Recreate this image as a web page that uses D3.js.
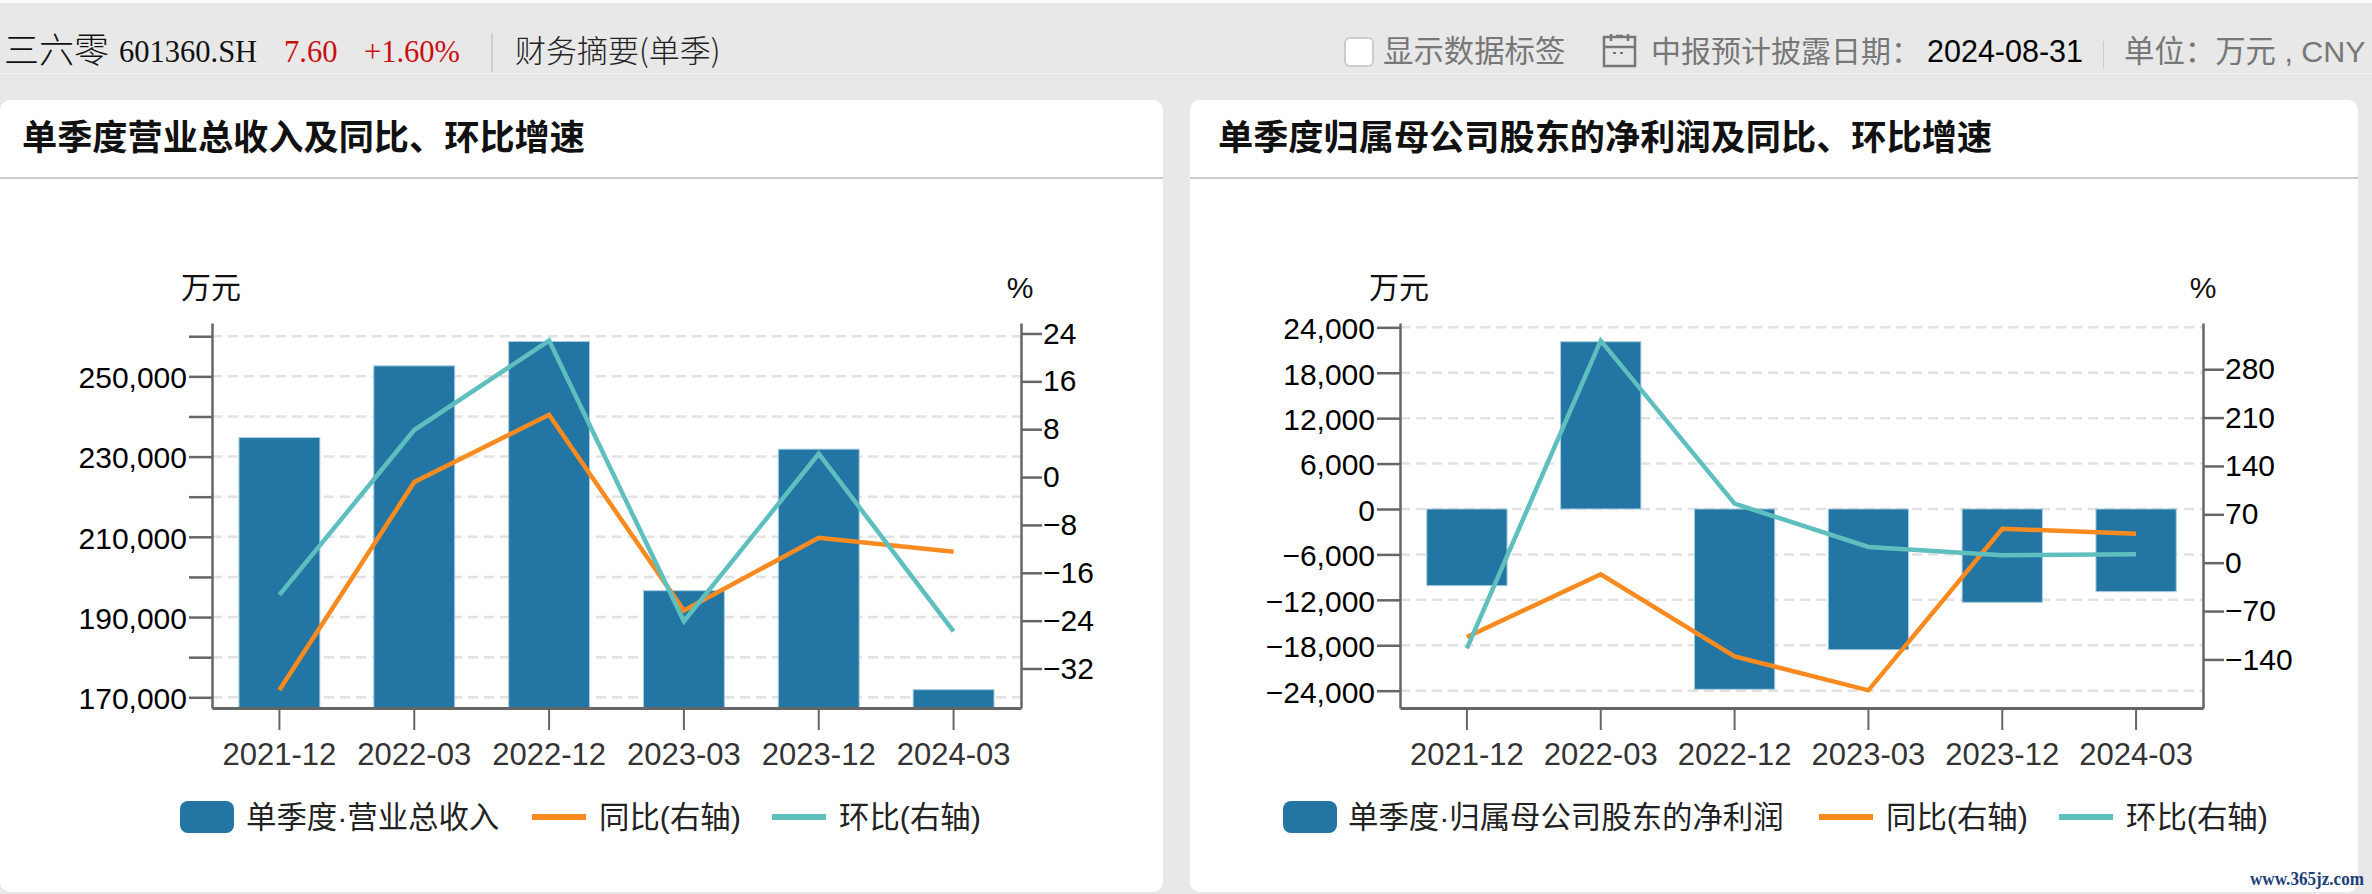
<!DOCTYPE html>
<html>
<head>
<meta charset="utf-8">
<script src="https://cdn.jsdelivr.net/npm/d3@7/dist/d3.min.js"></script>
<style>
html, body { margin: 0; padding: 0; background: #e8e8e8; }
svg { display: block; font-family: "Liberation Sans", "Noto Sans CJK SC", sans-serif; }
.axis text { font-size: 30px; fill: #000; font-family: "Liberation Sans", sans-serif; }
.x-axis text { fill: #333; font-size: 31px; }
</style>
</head>
<body>
<div id="chart"></div>
<script>
const periods = ["2021-12", "2022-03", "2022-12", "2023-03", "2023-12", "2024-03"];

const revenue = [234740, 252620, 258680, 196580, 231850, 171900];
const revenueYoy = [-35.6, -0.84, 10.4, -22.3, -10.15, -12.5];
const revenueQoq = [-19.7, 7.86, 22.8, -24.1, 3.9, -25.8];
const revenueTicks = [170000, 180000, 190000, 200000, 210000, 220000, 230000, 240000, 250000, 260000];
const revenueLabels = [170000, 190000, 210000, 230000, 250000];
const revenueRateTicks = [-32, -24, -16, -8, 0, 8, 16, 24];

const profit = [-10130, 22100, -23820, -18590, -12330, -10920];
const profitYoy = [-107.5, -16.8, -135.5, -184.7, 49.2, 42];
const profitQoq = [-123.9, 321.3, 85.4, 22.7, 10.7, 12.2];
const profitTicks = [-24000, -18000, -12000, -6000, 0, 6000, 12000, 18000, 24000];
const profitRateTicks = [-140, -70, 0, 70, 140, 210, 280];

const BLUE = "#2376a3", ORANGE = "#f98a1f", TEAL = "#5fbfbf";
const AXIS = "#666", GRID = "#e2e2e2";

const svg = d3.select("#chart").append("svg")
    .attr("width", 2372)
    .attr("height", 894);

function text(parent, x, y, str, size, fill, extra = {}) {
    const t = parent.append("text")
        .attr("x", x)
        .attr("y", y)
        .attr("font-size", size)
        .attr("fill", fill)
        .text(str);
    Object.entries(extra).forEach(([k, v]) => t.attr(k, v));
    return t;
}

function drawHeader() {
    svg.append("rect").attr("width", 2372).attr("height", 894).attr("fill", "#e8e8e8");
    svg.append("rect").attr("width", 2372).attr("height", 3).attr("fill", "#fafafa");
    svg.append("rect").attr("y", 73).attr("width", 2372).attr("height", 1).attr("fill", "#f1f1f1");

    const serif = { "font-family": "'Liberation Serif', 'Noto Sans CJK SC', serif" };
    const cjk = { "font-family": "'Noto Sans CJK SC', sans-serif" };

    text(svg, 4, 63, "三六零", 35, "#111", { ...cjk, "font-weight": 300 });
    text(svg, 119, 62, "601360.SH", 30.5, "#111", serif);
    text(svg, 284, 62, "7.60", 30.5, "#c8100f", serif);
    text(svg, 364, 62, "+1.60%", 30.5, "#c8100f", serif);
    svg.append("rect").attr("x", 491).attr("y", 33).attr("width", 2).attr("height", 39).attr("fill", "#d0d0d0");
    text(svg, 515, 62, "财务摘要(单季)", 31, "#222", { ...cjk, "font-weight": 300 });

    svg.append("rect").attr("x", 1345).attr("y", 38).attr("width", 28).attr("height", 28)
        .attr("rx", 5).attr("fill", "#fff").attr("stroke", "#ccc").attr("stroke-width", 2);
    text(svg, 1383, 62, "显示数据标签", 30.4, "#777", cjk);

    const cal = svg.append("g").attr("fill", "none").attr("stroke", "#777").attr("stroke-width", 2.5);
    cal.append("rect").attr("x", 1604).attr("y", 37).attr("width", 31).attr("height", 29);
    cal.append("path").attr("d", "M1604 47H1635 M1611 34V41 M1628 34V41 M1616 36H1623");
    cal.append("path").attr("d", "M1613 53h3 M1620 53h3").attr("stroke-width", 2);

    text(svg, 1651, 62, "中报预计披露日期：", 30, "#777", cjk);
    text(svg, 1927, 62, "2024-08-31", 30.5, "#000");
    svg.append("rect").attr("x", 2103).attr("y", 41).attr("width", 1).attr("height", 27).attr("fill", "#ccc");
    text(svg, 2124, 62, "单位：万元 , CNY", 30.4, "#777");
}

function drawChart(opts) {
    const { card, left, right, title, titleX, bars, yoy, qoq, yDomain, rateDomain,
            ticks, labels, rateTicks, unitX, pctX, legend } = opts;
    const top = 323, bottom = 708;

    const g = svg.append("g");
    g.append("rect")
        .attr("x", card[0]).attr("y", 100)
        .attr("width", card[1] - card[0]).attr("height", 792)
        .attr("rx", 10).attr("fill", "#fff");
    g.append("rect")
        .attr("x", card[0]).attr("y", 177)
        .attr("width", card[1] - card[0]).attr("height", 2)
        .attr("fill", "#cbcbcb");
    text(g, titleX, 150, title, 35.2, "#111", {
        "font-weight": 700,
        "font-family": "'Noto Sans CJK SC', sans-serif"
    });

    const x = d3.scaleBand().domain(periods).range([left, right]).paddingInner(0.4).paddingOuter(0.2);
    const y = d3.scaleLinear().domain(yDomain).range([bottom, top]);
    const yRate = d3.scaleLinear().domain(rateDomain).range([bottom, top]);
    const base = y(Math.max(0, yDomain[0]));

    g.append("g").selectAll("line")
        .data(ticks)
        .enter()
        .append("line")
        .attr("x1", left).attr("x2", right)
        .attr("y1", d => y(d)).attr("y2", d => y(d))
        .attr("stroke", GRID)
        .attr("stroke-width", 2.5)
        .attr("stroke-dasharray", "10 6");

    g.append("g").selectAll("rect")
        .data(bars)
        .enter()
        .append("rect")
        .attr("x", (d, i) => x(periods[i]))
        .attr("y", d => Math.min(y(d), base))
        .attr("width", x.bandwidth())
        .attr("height", d => Math.abs(y(d) - base))
        .attr("fill", BLUE)
        .attr("stroke", "#a9cde0")
        .attr("stroke-width", 1);

    const line = d3.line()
        .x((d, i) => x(periods[i]) + x.bandwidth() / 2)
        .y(d => yRate(d));

    [[yoy, ORANGE], [qoq, TEAL]].forEach(([values, color]) => {
        g.append("path")
            .attr("d", line(values))
            .attr("fill", "none")
            .attr("stroke", color)
            .attr("stroke-width", 4.5);
    });

    const fmt = d3.format(",");
    const leftAxis = g.append("g")
        .attr("class", "axis")
        .attr("transform", `translate(${left},0)`)
        .call(d3.axisLeft(y).tickValues(ticks).tickSizeInner(23).tickSizeOuter(0).tickPadding(2)
            .tickFormat(d => labels.includes(d) ? fmt(d) : ""));
    leftAxis.selectAll("text").attr("dy", "0.38em");
    const rightAxis = g.append("g")
        .attr("class", "axis")
        .attr("transform", `translate(${right},0)`)
        .call(d3.axisRight(yRate).tickValues(rateTicks).tickSizeInner(21).tickSizeOuter(0).tickPadding(1));
    const bottomAxis = g.append("g")
        .attr("class", "axis x-axis")
        .attr("transform", `translate(0,${bottom})`)
        .call(d3.axisBottom(x).tickSizeInner(22).tickSizeOuter(0).tickPadding(13));

    [leftAxis, rightAxis, bottomAxis].forEach(a => {
        a.select(".domain").attr("stroke", AXIS).attr("stroke-width", 2.5);
        a.selectAll(".tick line").attr("stroke", AXIS).attr("stroke-width", 2.5);
    });
    bottomAxis.selectAll(".tick line").attr("stroke-width", 2);
    bottomAxis.select(".domain").attr("stroke-width", 3);

    text(g, unitX, 298, "万元", 30, "#111", { "text-anchor": "middle" });
    text(g, pctX, 298, "%", 30, "#111", { "text-anchor": "middle" });

    g.append("rect")
        .attr("x", legend.bar[0]).attr("y", 801)
        .attr("width", legend.bar[1] - legend.bar[0]).attr("height", 32)
        .attr("rx", 8).attr("fill", BLUE);
    text(g, legend.barText[0], 828, legend.barText[1], 30.4, "#222");

    [[legend.yoy, ORANGE, "同比(右轴)"], [legend.qoq, TEAL, "环比(右轴)"]].forEach(([pos, color, label]) => {
        g.append("rect")
            .attr("x", pos).attr("y", 814)
            .attr("width", 54).attr("height", 6)
            .attr("fill", color);
        text(g, pos + 67, 828, label, 30.4, "#222");
    });
}

drawHeader();

drawChart({
    card: [0, 1163],
    left: 212,
    right: 1021,
    title: "单季度营业总收入及同比、环比增速",
    titleX: 22,
    bars: revenue,
    yoy: revenueYoy,
    qoq: revenueQoq,
    yDomain: [167330, 263300],
    rateDomain: [-38.6, 25.75],
    ticks: revenueTicks,
    labels: revenueLabels,
    rateTicks: revenueRateTicks,
    unitX: 211,
    pctX: 1020,
    legend: { bar: [180, 234], barText: [246, "单季度·营业总收入"], yoy: 532, qoq: 772 }
});

drawChart({
    card: [1190, 2358],
    left: 1400,
    right: 2203,
    title: "单季度归属母公司股东的净利润及同比、环比增速",
    titleX: 1218,
    bars: profit,
    yoy: profitYoy,
    qoq: profitQoq,
    yDomain: [-26290, 24570],
    rateDomain: [-210.3, 346.9],
    ticks: profitTicks,
    labels: profitTicks,
    rateTicks: profitRateTicks,
    unitX: 1399,
    pctX: 2203,
    legend: { bar: [1283, 1337], barText: [1348, "单季度·归属母公司股东的净利润"], yoy: 1819, qoq: 2059 }
});

text(svg, 2250, 885, "www.365jz.com", 18, "#1d3f78", {
    "font-family": "'Liberation Serif', serif",
    "font-weight": 700,
    "textLength": 114,
    "lengthAdjust": "spacingAndGlyphs"
});
</script>
</body>
</html>
